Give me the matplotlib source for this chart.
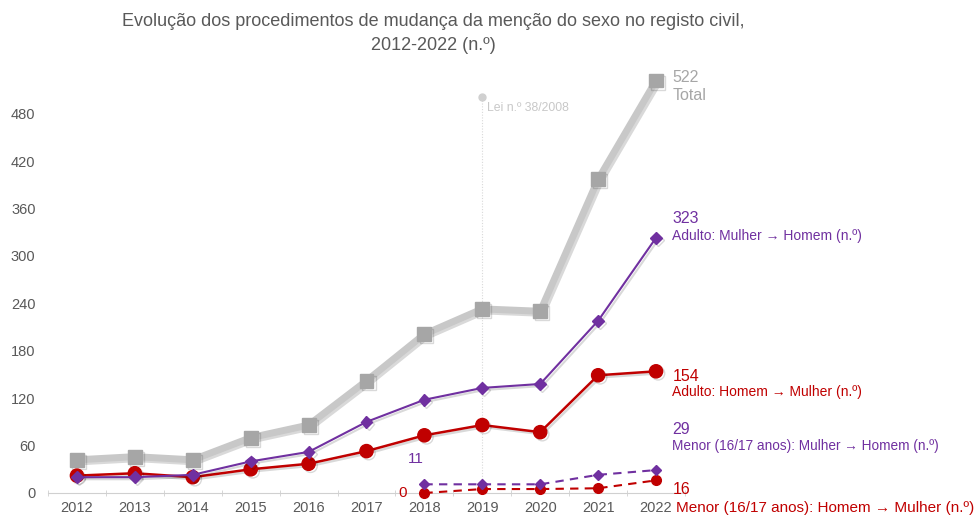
import matplotlib.pyplot as plt
import matplotlib.patheffects as pe

plt.rcParams["font.family"] = ["Liberation Sans", "DejaVu Sans"]

# Dados
anos = [2012, 2013, 2014, 2015, 2016, 2017, 2018, 2019, 2020, 2021, 2022]
total = [42, 46, 42, 70, 86, 142, 201, 233, 230, 397, 522]
adulto_mh = [20, 20, 23, 40, 52, 90, 118, 133, 138, 218, 323]
adulto_hm = [22, 25, 20, 30, 37, 53, 73, 86, 77, 149, 154]

anos_menor = [2018, 2019, 2020, 2021, 2022]
menor_mh = [11, 11, 11, 23, 29]
menor_hm = [0, 5, 5, 6, 16]

ano_lei = 2019
topo_lei = 501
yticks = [0, 60, 120, 180, 240, 300, 360, 420, 480]

cinza = "#c8c8c8"
cinza_esc = "#a6a6a6"
roxo = "#7030a0"
vermelho = "#c00000"
texto = "#595959"

fig = plt.figure(figsize=(9.77, 5.16), dpi=100)
ax = fig.add_axes([48 / 977, 1 - 493 / 516, (685 - 48) / 977, (493 - 60) / 516])
ax.set_xlim(2011.5, 2022.5)
ax.set_ylim(0, 548)

sombra = [pe.SimpleLineShadow(offset=(1.5, -1.5), alpha=0.15), pe.Normal()]

# Linha da lei
ax.plot([ano_lei, ano_lei], [0, topo_lei], color="#d9d9d9", lw=0.8, ls=(0, (1, 1.5)), zorder=1)
ax.plot([ano_lei], [topo_lei], marker="o", ms=5, color="#d0d0d0", zorder=1, clip_on=False)
ax.text(ano_lei + 0.08, topo_lei - 17, "Lei n.º 38/2008", fontsize=8.8, color="#c8c8c8")

# Séries
ax.plot(anos, total, color=cinza, lw=5, marker="s", ms=10, mfc=cinza_esc, mec=cinza_esc,
        zorder=2, path_effects=sombra, clip_on=False)
ax.plot(anos, adulto_mh, color=roxo, lw=1.5, marker="D", ms=6, zorder=4, path_effects=sombra)
ax.plot(anos, adulto_hm, color=vermelho, lw=1.8, marker="o", ms=9.5, zorder=3, path_effects=sombra)
ax.plot(anos_menor, menor_mh, color=roxo, lw=1.5, ls=(0, (4, 3)), marker="D", ms=5.5, zorder=4)
ax.plot(anos_menor, menor_hm, color=vermelho, lw=1.5, ls=(0, (4, 3)), marker="o", ms=7, zorder=3,
        clip_on=False)

# Rótulos das séries
xr = 2022.28
ax.text(xr, total[-1] + 4, str(total[-1]), color=cinza_esc, fontsize=11.5, va="center", clip_on=False)
ax.text(xr, total[-1] - 19, "Total", color=cinza_esc, fontsize=11.5, va="center", clip_on=False)
ax.text(xr, 347, str(adulto_mh[-1]), color=roxo, fontsize=11.5, va="center", clip_on=False)
ax.text(xr, 325, "Adulto: Mulher → Homem (n.º)", color=roxo, fontsize=10, va="center", clip_on=False)
ax.text(xr, 148, str(adulto_hm[-1]), color=vermelho, fontsize=11.5, va="center", clip_on=False)
ax.text(xr, 128, "Adulto: Homem → Mulher (n.º)", color=vermelho, fontsize=10, va="center", clip_on=False)
ax.text(xr, 80, str(menor_mh[-1]), color=roxo, fontsize=11.5, va="center", clip_on=False)
ax.text(xr, 59, "Menor (16/17 anos): Mulher → Homem (n.º)", color=roxo, fontsize=9.8, va="center",
        clip_on=False)
ax.text(xr, 4, str(menor_hm[-1]), color=vermelho, fontsize=11.5, va="center", clip_on=False)
ax.text(2022.35, -19, "Menor (16/17 anos): Homem → Mulher (n.º)", color=vermelho, fontsize=11,
        va="center", clip_on=False)
ax.text(2017.85, 43, str(menor_mh[0]), color=roxo, fontsize=11, va="center", ha="center")
ax.text(2017.62, 0, str(menor_hm[0]), color=vermelho, fontsize=11, va="center", ha="center",
        clip_on=False)

# Eixos
ax.set_yticks(yticks)
ax.set_xticks(anos)
ax.set_xticks([a + 0.5 for a in [2011] + anos], minor=True)
ax.tick_params(axis="y", length=0, labelsize=10.5, labelcolor=texto, pad=9)
ax.tick_params(axis="x", which="major", length=0, labelsize=10.5, labelcolor=texto, pad=6)
ax.tick_params(axis="x", which="minor", length=4, color="#d0d0d0", direction="inout")
for lado in ["top", "right", "left"]:
    ax.spines[lado].set_visible(False)
ax.spines["bottom"].set_color("#d0d0d0")

fig.text(433 / 977, 1 - 22 / 516, "Evolução dos procedimentos de mudança da menção do sexo no registo civil,",
         ha="center", va="center", fontsize=13, color=texto)
fig.text(433 / 977, 1 - 46 / 516, "2012-2022 (n.º)", ha="center", va="center", fontsize=13, color=texto)

fig.savefig("out.png", dpi=100)
